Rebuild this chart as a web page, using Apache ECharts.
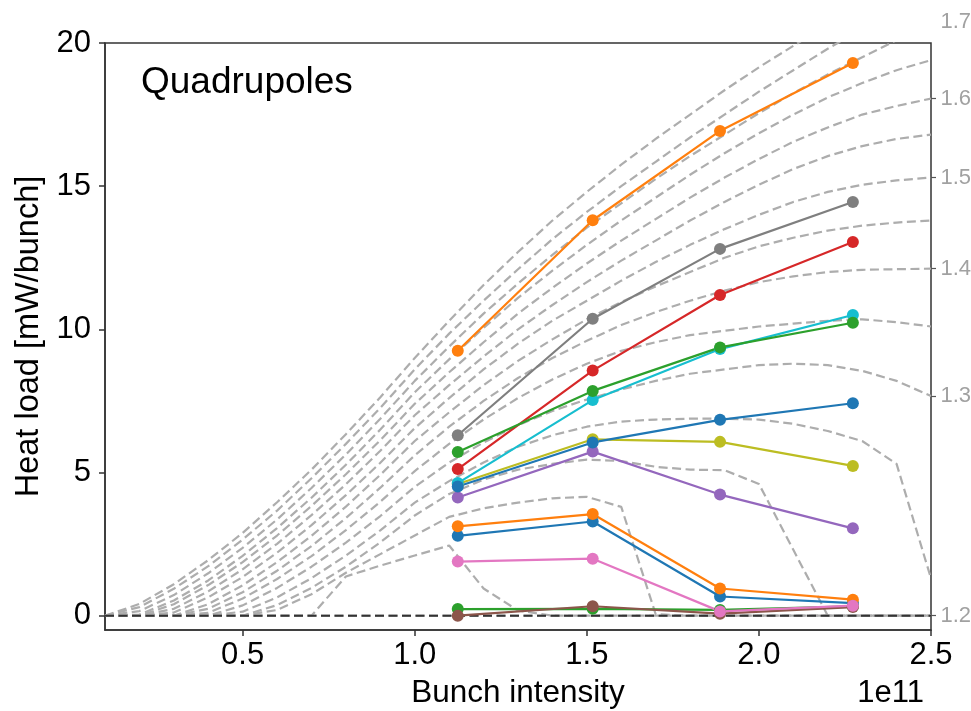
<!DOCTYPE html>
<html>
<head>
<meta charset="utf-8">
<script src="https://cdn.jsdelivr.net/npm/echarts@6/dist/echarts.min.js"></script>
<style>
  html, body { margin: 0; padding: 0; background: #fff; }
  #chart { width: 971px; height: 711px; }
</style>
</head>
<body>
<div id="chart"></div>
<script>
// ---------- simulation curves (dashed grey), x in units of 1e11 ----------
const curveX = [0.1, 0.2, 0.3, 0.4, 0.5, 0.6, 0.7, 0.8, 0.9, 1.0, 1.1, 1.2, 1.3,
                1.4, 1.5, 1.6, 1.7, 1.8, 1.9, 2.0, 2.1, 2.2, 2.3, 2.4, 2.5];
const sey180 = [0, 0.41, 1.1, 1.94, 2.89, 3.96, 5.1, 6.34, 7.63, 9.0, 10.3, 11.55, 12.7, 13.8, 14.8, 15.75, 16.65, 17.5, 18.35, 19.15, 19.9, 20.65, 21.3, 21.9, 22.5];
const sey175 = [0, 0.3, 0.94, 1.73, 2.66, 3.67, 4.8, 6.0, 7.26, 8.6, 9.85, 11.0, 12.1, 13.15, 14.1, 15.0, 15.85, 16.7, 17.5, 18.3, 19.05, 19.8, 20.5, 21.1, 21.7];
const sey170 = [0, 0.16, 0.72, 1.48, 2.37, 3.36, 4.46, 5.63, 6.88, 8.2, 9.4, 10.55, 11.6, 12.6, 13.55, 14.4, 15.25, 16.05, 16.8, 17.55, 18.25, 18.9, 19.5, 20.1, 20.75];
const sey165 = [0, 0.04, 0.53, 1.23, 2.09, 3.06, 4.12, 5.27, 6.5, 7.8, 8.95, 10.05, 11.1, 12.05, 12.95, 13.8, 14.6, 15.4, 16.15, 16.85, 17.5, 18.1, 18.6, 19.05, 19.4];
const sey160 = [0, 0, 0.4, 1.07, 1.87, 2.8, 3.83, 4.94, 6.13, 7.4, 8.5, 9.55, 10.55, 11.45, 12.3, 13.1, 13.85, 14.6, 15.3, 15.95, 16.55, 17.05, 17.5, 17.8, 18.06];
const sey155 = [0, 0, 0.24, 0.85, 1.62, 2.51, 3.51, 4.59, 5.76, 7.0, 8.05, 9.05, 10.0, 10.85, 11.65, 12.4, 13.1, 13.8, 14.45, 15.05, 15.6, 16.05, 16.4, 16.65, 16.8];
const sey150 = [0, 0, 0.11, 0.64, 1.35, 2.2, 3.16, 4.21, 5.34, 6.55, 7.6, 8.6, 9.5, 10.3, 11.0, 11.7, 12.35, 12.95, 13.5, 14.0, 14.45, 14.8, 15.05, 15.2, 15.3];
const sey145 = [0, 0, 0, 0.4, 1.06, 1.87, 2.79, 3.81, 4.92, 6.1, 7.1, 8.05, 8.9, 9.65, 10.35, 10.95, 11.5, 12.0, 12.5, 12.9, 13.2, 13.45, 13.62, 13.73, 13.8];
const sey140 = [0, 0, 0, 0.24, 0.82, 1.57, 2.43, 3.41, 4.47, 5.6, 6.6, 7.5, 8.3, 9.0, 9.6, 10.15, 10.6, 11.0, 11.35, 11.65, 11.85, 12.0, 12.08, 12.1, 12.12];
const sey135 = [0, 0, 0, 0.1, 0.6, 1.28, 2.08, 2.99, 3.98, 5.05, 6.0, 6.85, 7.6, 8.25, 8.8, 9.25, 9.55, 9.8, 9.95, 10.1, 10.2, 10.3, 10.35, 10.25, 10.1];
const sey130 = [0, 0, 0, 0, 0.36, 0.97, 1.71, 2.55, 3.48, 4.5, 5.35, 6.05, 6.65, 7.15, 7.55, 7.9, 8.2, 8.45, 8.6, 8.75, 8.8, 8.75, 8.55, 8.2, 7.67];
const sey128 = [0, 0, 0, 0, 0.14, 0.64, 1.31, 2.1, 2.98, 3.95, 4.7, 5.35, 5.9, 6.3, 6.6, 6.78, 6.85, 6.88, 6.88, 6.85, 6.7, 6.45, 6.1, 5.3, 1.3];
const sey126 = [0, 0, 0, 0, 0, 0.37, 0.97, 1.71, 2.56, 3.5, 4.25, 4.75, 5.1, 5.3, 5.45, 5.4, 5.2, 5.1, 5.08, 4.6, 2.3, 0, 0, 0, 0];
const sey124 = [0, 0, 0, 0, 0, 0.2, 0.75, 1.5, 2.15, 2.8, 3.45, 3.75, 3.95, 4.1, 4.15, 3.8, 0.05, 0, 0, 0, 0, 0, 0, 0, 0];
const sey122 = [0, 0, 0, 0, 0, 0, 0, 1.37, 1.75, 2.1, 2.45, 0.95, 0.18, 0, 0, 0, 0, 0, 0, 0, 0, 0, 0, 0, 0];
const sey120 = [0, 0, 0, 0, 0, 0, 0, 0, 0, 0, 0, 0, 0, 0, 0, 0, 0, 0, 0, 0, 0, 0, 0, 0, 0];

// right-hand SEY labels and the curve each one names
const seyLabels = ['1.2', '1.3', '1.4', '1.5', '1.6', '1.7'];
const seyLabelCurves = [sey120, sey130, sey140, sey150, sey160, sey170];

// ---------- measured data (coloured lines) ----------
const intensity = [1.125, 1.517, 1.887, 2.273];
const blueLow    = [2.79, 3.29, 0.67, 0.44];
const orangeLow  = [3.12, 3.55, 0.95, 0.56];
const greenLow   = [0.23, 0.24, 0.20, 0.33];
const red        = [5.12, 8.56, 11.20, 13.05];
const purple     = [4.13, 5.73, 4.23, 3.05];
const brown      = [0.00, 0.33, 0.07, 0.30];
const pink       = [1.89, 1.99, 0.15, 0.35];
const grey       = [6.30, 10.37, 12.81, 14.45];
const olive      = [4.60, 6.16, 6.07, 5.23];
const cyan       = [4.63, 7.53, 9.31, 10.50];
const blueHigh   = [4.51, 6.05, 6.84, 7.42];
const orangeHigh = [9.25, 13.81, 16.93, 19.30];
const greenHigh  = [5.72, 7.85, 9.37, 10.23];

const xTicks = [0.5, 1.0, 1.5, 2.0, 2.5];
const yTicks = [0, 5, 10, 15, 20];

const FONT = '"Liberation Sans", Arial, sans-serif';

const curves = [sey180, sey175, sey170, sey165, sey160, sey155, sey150, sey145,
                sey140, sey135, sey130, sey128, sey126, sey124, sey122, sey120];
const dataSets = [
  [blueLow, '#1f77b4'], [orangeLow, '#ff7f0e'], [greenLow, '#2ca02c'],
  [red, '#d62728'], [purple, '#9467bd'], [brown, '#8c564b'], [pink, '#e377c2'],
  [grey, '#7f7f7f'], [olive, '#bcbd22'], [cyan, '#17becf'],
  [blueHigh, '#1f77b4'], [orangeHigh, '#ff7f0e'], [greenHigh, '#2ca02c']
];

const series = [];
curves.forEach(function (c) {
  series.push({
    type: 'line', xAxisIndex: 0, yAxisIndex: 0,
    data: curveX.map(function (x, i) { return [x, c[i]]; }),
    symbol: 'none', silent: true, z: 2,
    lineStyle: { color: '#adadad', width: 2.2, type: [9, 4.5] }
  });
});
series.push({
  type: 'line', data: [[curveX[0], 0], [curveX[curveX.length - 1], 0]],
  symbol: 'none', silent: true, z: 3,
  lineStyle: { color: '#333333', width: 2, type: [9, 4.5] }
});
dataSets.forEach(function (d) {
  series.push({
    type: 'line',
    data: intensity.map(function (x, i) { return [x, d[0][i]]; }),
    symbol: 'circle', symbolSize: 12, z: 5,
    lineStyle: { color: d[1], width: 2.2 },
    itemStyle: { color: d[1] }
  });
});
// SEY labels at the right end of the curves
series.push({
  type: 'scatter', clip: false, silent: true, z: 6,
  symbolSize: 1, itemStyle: { color: 'rgba(0,0,0,0)' },
  data: seyLabels.map(function (l, i) {
    const c = seyLabelCurves[i];
    return { value: [curveX[curveX.length - 1], c[c.length - 1]], name: l };
  }),
  label: {
    show: true, position: 'right', distance: 9,
    formatter: function (p) { return p.name; },
    color: '#8a8a8a', fontSize: 22, fontFamily: FONT
  }
});

const rightTickValues = seyLabelCurves
  .map(function (c) { return c[c.length - 1]; })
  .filter(function (v) { return v <= 20; });

const chart = echarts.init(document.getElementById('chart'), null, { renderer: 'canvas' });
chart.setOption({
  animation: false,
  backgroundColor: '#ffffff',
  title: [
    { text: 'Quadrupoles', left: 136, top: 59,
      textStyle: { fontSize: 37, fontWeight: 'normal', color: '#000', fontFamily: FONT } },
    { text: '1e11', right: 42, top: 673,
      textStyle: { fontSize: 31, fontWeight: 'normal', color: '#000', fontFamily: FONT } }
  ],
  grid: { left: 105, right: 40, top: 43, bottom: 81, containLabel: false,
          outerBoundsMode: 'none',
          show: true, borderColor: '#333', borderWidth: 1.5, backgroundColor: 'transparent' },
  xAxis: {
    type: 'value', min: 0.1, max: 2.5,
    name: 'Bunch intensity', nameLocation: 'middle', nameGap: 47,
    nameTextStyle: { fontSize: 31.5, color: '#000', fontFamily: FONT },
    axisLine: { show: true, onZero: false, lineStyle: { color: '#333', width: 1.5 } },
    axisTick: { show: true, customValues: xTicks, length: 6, lineStyle: { color: '#333', width: 1.5 } },
    axisLabel: { customValues: xTicks, margin: 10, fontSize: 31, color: '#000', fontFamily: FONT,
                 formatter: function (v) { return Number(v).toFixed(1); } },
    splitLine: { show: false }
  },
  yAxis: [{
    type: 'value', min: -0.5, max: 20,
    name: 'Heat load [mW/bunch]', nameLocation: 'middle', nameGap: 46, nameRotate: 90,
    nameTextStyle: { fontSize: 32.5, color: '#000', fontFamily: FONT },
    axisLine: { show: true, onZero: false, lineStyle: { color: '#333', width: 1.5 } },
    axisTick: { show: true, customValues: yTicks, length: 6, lineStyle: { color: '#333', width: 1.5 } },
    axisLabel: { customValues: yTicks, margin: 14, fontSize: 31, color: '#000', fontFamily: FONT },
    splitLine: { show: false }
  }, {
    type: 'value', min: -0.5, max: 20, position: 'right',
    axisLine: { show: false },
    axisTick: { show: true, customValues: rightTickValues, length: 5, lineStyle: { color: '#555', width: 1.2 } },
    axisLabel: { show: false },
    splitLine: { show: false }
  }],
  series: series
});
</script>
</body>
</html>
